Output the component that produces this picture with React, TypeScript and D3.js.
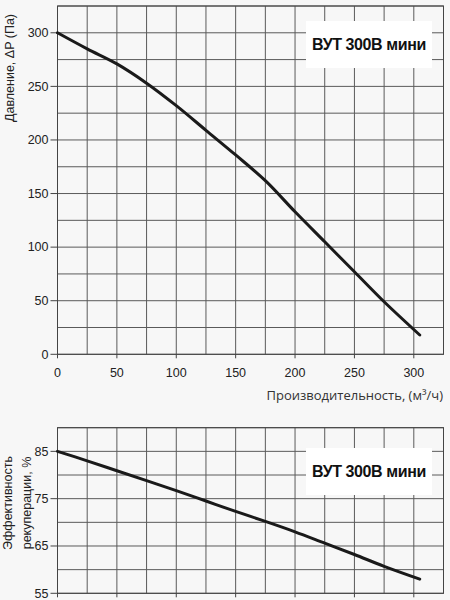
import React, { useEffect, useRef } from "react";
import * as d3 from "d3";

// flow, m3/h
const flow = [0, 25, 50, 75, 100, 125, 150, 175, 200, 225, 250, 275, 305];
// pressure, Pa
const pressure = [300, 285, 271, 253, 232, 209, 186, 162, 133, 105, 77, 49, 18];
// recuperation efficiency, %
const efficiency = [85, 83, 80.9, 78.8, 76.7, 74.5, 72.3, 70.2, 68, 65.6, 63.2, 60.7, 58];

const xTicks = [0, 50, 100, 150, 200, 250, 300];
const pTicks = [0, 50, 100, 150, 200, 250, 300];
const eTicks = [55, 65, 75, 85];

const modelName = "ВУТ 300В мини";

const App: React.FC = () => {
  const svgRef = useRef<SVGSVGElement | null>(null);

  useEffect(() => {
    const svg = d3.select(svgRef.current);
    svg.selectAll("*").remove();

    const w = 450;
    const h = 600;
    const tickFont = "'Liberation Sans', Arial, sans-serif";

    svg.attr("width", w).attr("height", h).style("background-color", "#f7f7f7");

    const x = d3.scaleLinear().domain([0, 325]).range([57.5, 443.5]);
    const yP = d3.scaleLinear().domain([0, 325]).range([354.3, 6]);
    const yE = d3.scaleLinear().domain([55, 90]).range([593.3, 427.7]);

    const gridX = d3.range(0, 326, 25);

    const drawPanel = (
      y: d3.ScaleLinear<number, number>,
      gridY: number[],
      yTicks: number[],
      values: number[],
      boxY: number,
      showXLabels: boolean
    ) => {
      const [y0, y1] = y.range();
      const g = svg.append("g");

      // grid
      g.selectAll(".gx")
        .data(gridX)
        .enter()
        .append("line")
        .attr("x1", d => x(d))
        .attr("x2", d => x(d))
        .attr("y1", y0)
        .attr("y2", y1)
        .attr("stroke", "#5a5a5a")
        .attr("stroke-width", 1);

      g.selectAll(".gy")
        .data(gridY)
        .enter()
        .append("line")
        .attr("x1", x(0))
        .attr("x2", x(325))
        .attr("y1", d => y(d))
        .attr("y2", d => y(d))
        .attr("stroke", "#5a5a5a")
        .attr("stroke-width", 1);

      // frame
      g.append("rect")
        .attr("x", x(0))
        .attr("y", y1)
        .attr("width", x(325) - x(0))
        .attr("height", y0 - y1)
        .attr("fill", "none")
        .attr("stroke", "#444")
        .attr("stroke-width", 1);

      // y ticks
      const yt = g.selectAll(".yt").data(yTicks).enter().append("g");
      yt.append("line")
        .attr("x1", x(0) - 7)
        .attr("x2", x(0))
        .attr("y1", d => y(d))
        .attr("y2", d => y(d))
        .attr("stroke", "#444");
      yt.append("text")
        .attr("x", x(0) - 9)
        .attr("y", d => y(d) + 4.3)
        .attr("text-anchor", "end")
        .style("font-family", tickFont)
        .style("font-size", "12.5px")
        .style("fill", "#222")
        .text(d => d);

      // x ticks
      const xt = g.selectAll(".xt").data(xTicks).enter().append("g");
      xt.append("line")
        .attr("x1", d => x(d))
        .attr("x2", d => x(d))
        .attr("y1", y0)
        .attr("y2", y0 + 4)
        .attr("stroke", "#444");
      if (showXLabels) {
        xt.append("text")
          .attr("x", d => x(d))
          .attr("y", y0 + 23)
          .attr("text-anchor", "middle")
          .style("font-family", tickFont)
          .style("font-size", "12.5px")
          .style("fill", "#222")
          .text(d => d);
      }

      // curve
      const line = d3
        .line<number>()
        .x((_, i) => x(flow[i]))
        .y(d => y(d))
        .curve(d3.curveCatmullRom.alpha(0.5));

      g.append("path")
        .datum(values)
        .attr("d", line)
        .attr("fill", "none")
        .attr("stroke", "#1a1a1a")
        .attr("stroke-width", 3)
        .attr("stroke-linecap", "round");

      // model label box
      g.append("rect")
        .attr("x", 306)
        .attr("y", boxY)
        .attr("width", 126)
        .attr("height", 47)
        .attr("fill", "#ffffff");
      g.append("text")
        .attr("x", 369)
        .attr("y", boxY + 29)
        .attr("text-anchor", "middle")
        .style("font-family", tickFont)
        .style("font-size", "16px")
        .style("font-weight", "bold")
        .style("letter-spacing", "-0.4px")
        .style("fill", "#111")
        .text(modelName);
    };

    drawPanel(yP, d3.range(0, 326, 25), pTicks, pressure, 21, true);
    drawPanel(yE, d3.range(55, 91, 5), eTicks, efficiency, 448, false);

    // axis titles
    svg.append("text")
      .attr("x", 443)
      .attr("y", 400)
      .attr("text-anchor", "end")
      .style("font-family", "'Open Sans', sans-serif")
      .style("font-size", "13px")
      .style("fill", "#333")
      .text("Производительность, (м³/ч)");

    svg.append("text")
      .attr("transform", "rotate(-90)")
      .attr("x", -68)
      .attr("y", 14)
      .attr("text-anchor", "middle")
      .style("font-family", tickFont)
      .style("font-size", "12.5px")
      .style("fill", "#222")
      .text("Давление, ΔP (Па)");

    const eff = svg.append("text")
      .attr("transform", "rotate(-90)")
      .attr("text-anchor", "middle")
      .style("font-family", tickFont)
      .style("font-size", "12.5px")
      .style("fill", "#222");
    eff.append("tspan").attr("x", -503).attr("y", 12).text("Эффективность");
    eff.append("tspan").attr("x", -503).attr("y", 31).text("рекуперации, %");
  }, []);

  return (
    <div style={{ position: "absolute", left: 0, top: 0, width: 450, height: 600, overflow: "hidden" }}>
      <svg ref={svgRef}></svg>
    </div>
  );
};

export default App;
